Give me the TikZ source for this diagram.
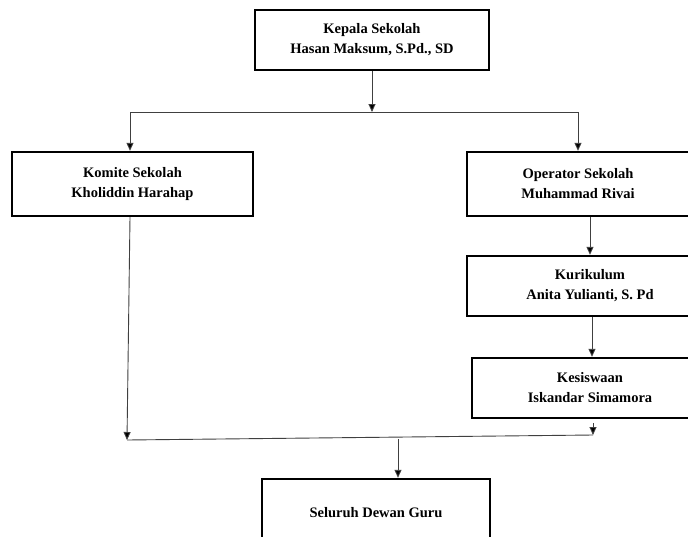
\documentclass[tikz,border=0pt]{standalone}
\usepackage{fontspec}
\setmainfont{Liberation Serif}
\usetikzlibrary{arrows.meta}
\begin{document}
\begin{tikzpicture}[x=1pt,y=-1pt,
  box/.style={draw, line width=2.4pt, rectangle, align=center,
    font=\bfseries\fontsize{14.5}{20}\selectfont, inner sep=0pt},
  conn/.style={draw=black!75, line width=0.9pt},
  arr/.style={conn, -{Triangle[length=8pt,width=7pt,fill=black]}}]
\useasboundingbox (0,0) rectangle (688,536);
\clip (0,0) rectangle (688,536);
\fill[white] (0,0) rectangle (688,536);
% boxes
\node[box, minimum width=234pt, minimum height=60pt] (kepala) at (372,40) {Kepala Sekolah\\Hasan Maksum, S.Pd., SD};
\node[box, minimum width=241pt, minimum height=64pt] (komite) at (132.5,184) {Komite Sekolah\\Kholiddin Harahap};
\node[box, minimum width=222pt, minimum height=64pt] (operator) at (578,184) {Operator Sekolah\\Muhammad Rivai};
\node[box, minimum width=246pt, minimum height=60pt] (kurikulum) at (590,286) {Kurikulum\\Anita Yulianti, S. Pd};
\node[box, minimum width=236pt, minimum height=60pt] (kesiswaan) at (590,388) {Kesiswaan\\Iskandar Simamora};
\node[box, minimum width=228pt, minimum height=68pt] (guru) at (376,513) {Seluruh Dewan Guru};
% junction coordinates
\coordinate (jtop) at (372,112);
\coordinate (jl) at (130,112);
\coordinate (jr) at (578,112);
\coordinate (bl) at (127,440);
\coordinate (br) at (593,435);
\coordinate (bm) at (398,439);
\coordinate (kstart) at (593,423);
% connectors
\draw[arr] (kepala.south) -- (jtop);
\draw[conn] (jl) -- (jr);
\draw[arr] (jl) -- (jl |- komite.north);
\draw[arr] (jr) -- (jr |- operator.north);
\draw[arr] (operator.south -| 590,0) -- (kurikulum.north -| 590,0);
\draw[arr] (kurikulum.south -| 592,0) -- (kesiswaan.north -| 592,0);
\draw[arr] (komite.south -| jl) -- (bl);
\draw[arr] (kstart) -- (br);
\draw[conn] (bl) -- (br);
\draw[arr] (bm) -- (bm |- guru.north);
\end{tikzpicture}
\end{document}
